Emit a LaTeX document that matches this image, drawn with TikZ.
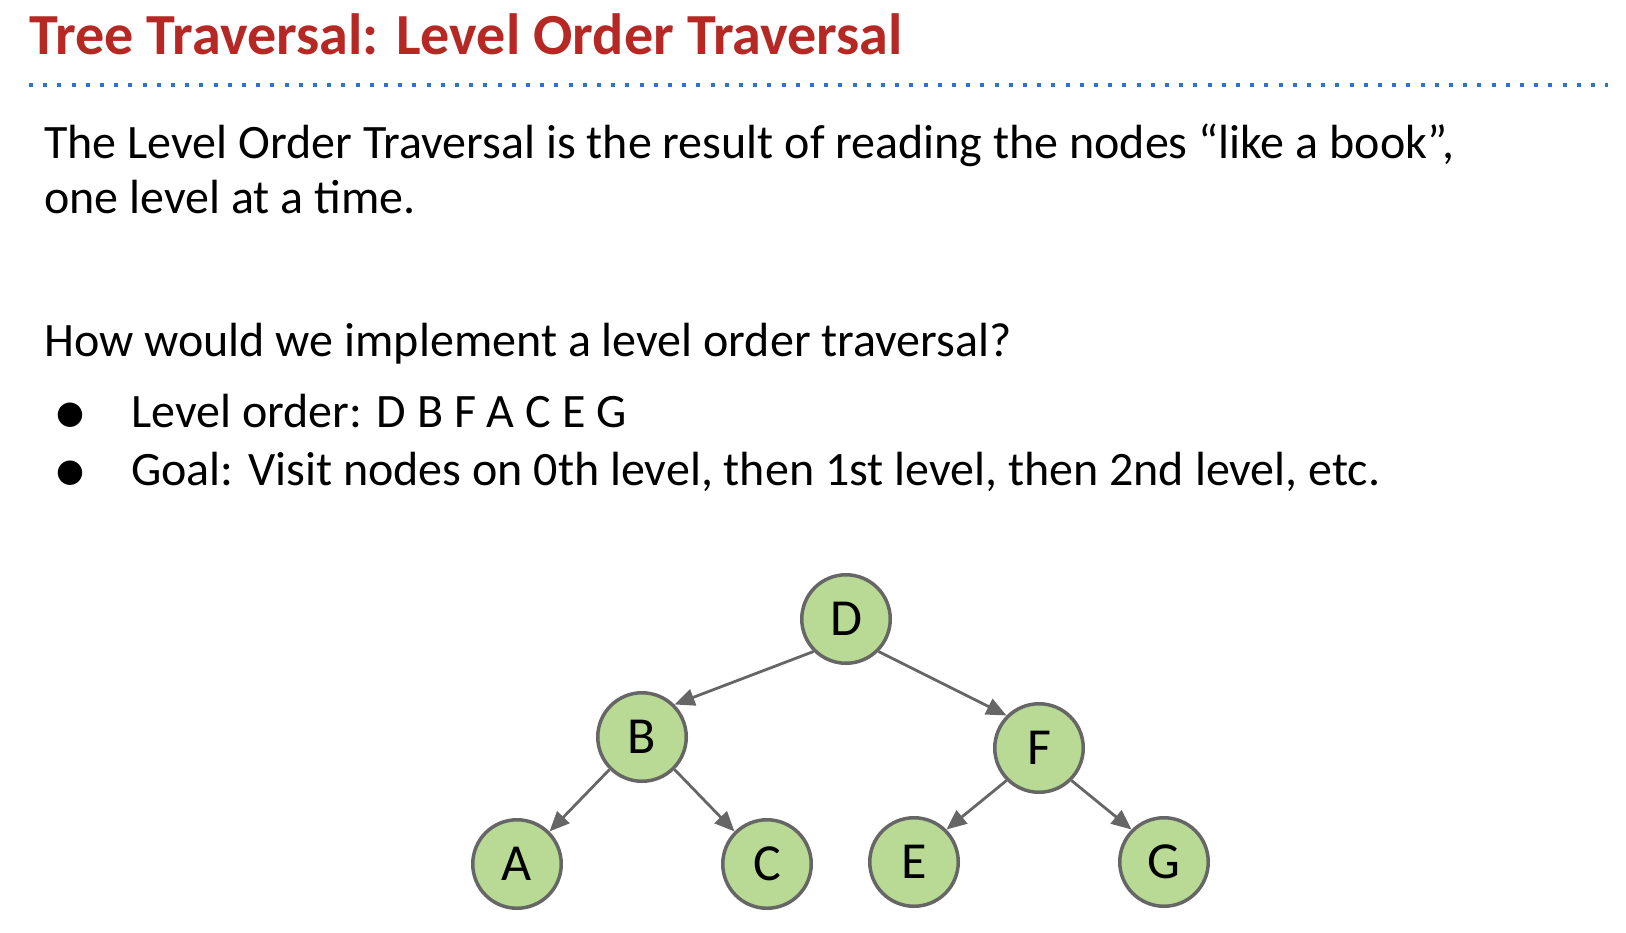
\documentclass[tikz,border=0pt]{standalone}
\usepackage{fontspec}
\setmainfont{Carlito}
\newfontfamily\symbolfont{DejaVu Sans}
\usetikzlibrary{arrows.meta}

\definecolor{titlered}{RGB}{182,40,36}
\definecolor{ruleblue}{RGB}{46,117,199}
\definecolor{leafgreen}{RGB}{185,218,148}
\definecolor{edgegray}{RGB}{102,102,102}

\begin{document}
\begin{tikzpicture}[x=0.5pt,y=-0.5pt]
    \tikzset{
        vertex/.style={
            circle, draw=edgegray, line width=1.75pt, fill=leafgreen,
            minimum size=44.25pt, inner sep=0pt,
            font=\fontsize{26}{30}\selectfont,
        },
        myedge/.style={
            draw=edgegray, line width=1.4pt,
            -{Triangle[length=10pt,width=8.5pt]},
        },
        bodytext/.style={
            anchor=base west, inner sep=0pt,
            font=\fontsize{24}{29}\selectfont,
        },
        bulletdot/.style={
            inner sep=0pt, font=\symbolfont\fontsize{16}{16}\selectfont,
        },
    }
    \useasboundingbox (0,0) rectangle (1626,932);

    % Heading
    \node[anchor=base west, inner sep=0pt, text=titlered,
          font=\fontsize{29.1}{35}\selectfont\bfseries] (title) at (29,54)
          {Tree Traversal: Level Order Traversal};
    \coordinate (ruleleft) at (29,85);
    \coordinate (ruleright) at (1608,85);
    \draw[ruleblue, line width=2pt, dash pattern=on 2pt off 5.1pt] (ruleleft) -- (ruleright);

    % Text
    \node[bodytext] (intro1) at (44,158) {The Level Order Traversal is the result of reading the nodes “like a book”,};
    \node[bodytext] (intro2) at (44,213) {one level at a time.};
    \node[bodytext] (question) at (44,356) {How would we implement a level order traversal?};
    \node[bulletdot] (dot1) at (70,415) {●};
    \node[bodytext] (item1) at (131,427) {Level order: D B F A C E G};
    \node[bulletdot] (dot2) at (70,473) {●};
    \node[bodytext] (item2) at (131,485) {Goal: Visit nodes on 0th level, then 1st level, then 2nd level, etc.};

    % Vertices
    \node[vertex] (D) at (846,619) {D};
    \node[vertex] (B) at (642,737) {B};
    \node[vertex] (F) at (1039,748) {F};
    \node[vertex] (A) at (517,864) {A};
    \node[vertex] (C) at (767,864) {C};
    \node[vertex] (E) at (914,862) {E};
    \node[vertex] (G) at (1164,862) {G};

    % Arcs
    \draw[myedge] (D.south west) -- (B.north east);
    \draw[myedge] (D.south east) -- (F.north west);
    \draw[myedge] (B.south west) -- (A.north east);
    \draw[myedge] (B.south east) -- (C.north west);
    \draw[myedge] (F.south west) -- (E.north east);
    \draw[myedge] (F.south east) -- (G.north west);
\end{tikzpicture}
\end{document}
